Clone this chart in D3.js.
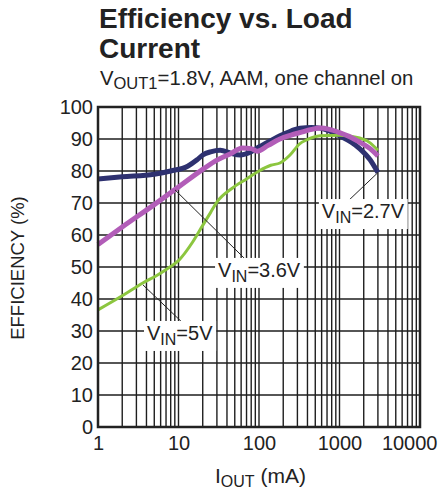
<!DOCTYPE html>
<html><head><meta charset="utf-8">
<script src="https://cdn.jsdelivr.net/npm/d3@7"></script>
<style>body{margin:0;background:#fff}svg{display:block;font-family:"Liberation Sans",Arial,sans-serif}</style>
</head><body><svg id="c" width="439" height="492"></svg>
<script>
// ---- data ----
const xDomain = [1, 10000];
const yDomain = [0, 100];
const yTicks = [0,10,20,30,40,50,60,70,80,90,100];
const xTickLabels = [1,10,100,1000,10000];

const vin27I = [1,2,5,8,13,17,20,25,33,45,58,80,100,140,182,250,323,450,575,750,1000,1400,1780,2400,3000];
const vin27E = [77.5,78.2,79,80,81.5,83.5,85,86,86.5,85.5,85,86,87.5,89.5,91,92.5,93.4,93.6,93.4,92.5,91,89,87,83.5,79.5];

const vin36I = [1,2,5,10,20,30,45,62,80,95,130,182,250,323,450,575,750,1000,1400,1780,2400,3000];
const vin36E = [57,62.5,69.5,75,80.5,83.4,85.5,87.2,87,86.2,88,90,91.2,92,93,93.4,93,92,90.5,89,87,84.7];

const vin5I = [1,2,3.6,5.5,7.8,10,15,20,25,30,47,70,100,140,182,243,320,390,575,1000,1780,2400,3000];
const vin5E = [36.6,41,45,47.5,50,52,57.8,63,67,70.3,74.7,77.5,80,81.8,82.5,85,88.5,89.7,91,91.2,90.3,88.8,86.5];

const seriesNames = ["2.7V","5V","3.6V"];
const seriesColors = ["#2e3170","#8cc63f","#b25db8"];
const seriesWidths = [5,3,5];

// annotation anchors (data space)
const annText = ["2.7V","3.6V","5V"];
const annTextI = [604, 31, 4.06];
const annTextE = [65.3, 46.9, 27.2];
const annFromI = [3000, 9.05, 3.62];
const annFromE = [79.5, 74.1, 44.4];
const annToI = [1239, 73, 12.0];
const annToE = [70.3, 51.6, 31.9];

// ---- chart ----
const svg = d3.select("#c");
const L=98, R=420, T=107, B=427;
const x = d3.scaleLog().domain(xDomain).range([L,R]);
const y = d3.scaleLinear().domain(yDomain).range([B,T]);

// title
svg.append("text").attr("x",99).attr("y",28).attr("font-size",28).attr("font-weight","bold").attr("fill","#222").text("Efficiency vs. Load");
svg.append("text").attr("x",99).attr("y",58).attr("font-size",28).attr("font-weight","bold").attr("fill","#222").text("Current");
const st = svg.append("text").attr("x",100).attr("y",85).attr("font-size",20.3).attr("fill","#222");
st.append("tspan").text("V");
st.append("tspan").attr("font-size",16.5).attr("dy",4).text("OUT1");
st.append("tspan").attr("dy",-4).text("=1.8V, AAM, one channel on");

// grid
const g = svg.append("g");
g.selectAll("line.v").data(x.ticks()).join("line")
  .attr("x1",d=>x(d)).attr("x2",d=>x(d)).attr("y1",T).attr("y2",B)
  .attr("stroke","#1e1e1e").attr("stroke-width",1.4);
g.selectAll("line.h").data(yTicks).join("line")
  .attr("x1",L).attr("x2",R).attr("y1",d=>y(d)).attr("y2",d=>y(d))
  .attr("stroke","#1e1e1e").attr("stroke-width",1.4);

// axes labels
const ya = svg.append("g").attr("transform",`translate(${L},0)`)
  .call(d3.axisLeft(y).tickValues(yTicks).tickSize(0).tickPadding(5));
ya.select(".domain").remove();
ya.selectAll("text").attr("font-size",20).attr("fill","#222").attr("font-family","Liberation Sans, Arial, sans-serif");

const xa = svg.append("g").attr("transform",`translate(0,${B})`)
  .call(d3.axisBottom(x).tickValues(xTickLabels).tickFormat(d3.format("d")).tickSize(0).tickPadding(9));
xa.select(".domain").remove();
xa.selectAll("text").attr("font-size",20).attr("fill","#222").attr("font-family","Liberation Sans, Arial, sans-serif");
xa.selectAll("text").filter(d=>d===10000).attr("text-anchor","end").attr("dx",17);

// axis titles
svg.append("text").attr("transform","translate(24,268) rotate(-90)").attr("text-anchor","middle")
  .attr("font-size",18.5).attr("fill","#222").text("EFFICIENCY (%)");
const xt = svg.append("text").attr("x",215).attr("y",483).attr("font-size",21).attr("fill","#222");
xt.append("tspan").text("I");
xt.append("tspan").attr("font-size",16).attr("dy",4).text("OUT");
xt.append("tspan").attr("dy",-4).text(" (mA)");

// series
const allI = {"2.7V":vin27I,"3.6V":vin36I,"5V":vin5I};
const allE = {"2.7V":vin27E,"3.6V":vin36E,"5V":vin5E};
const line = d3.line().x(d=>x(d[0])).y(d=>y(d[1])).curve(d3.curveMonotoneX);
seriesNames.forEach((n,i)=>{
  const pts = allI[n].map((v,j)=>[v,allE[n][j]]);
  svg.append("path").datum(pts).attr("d",line).attr("fill","none")
    .attr("stroke",seriesColors[i]).attr("stroke-width",seriesWidths[i])
    .attr("stroke-linejoin","round").attr("stroke-linecap","butt");
});

// frame
svg.append("rect").attr("x",L).attr("y",T).attr("width",R-L).attr("height",B-T)
  .attr("fill","none").attr("stroke","#222").attr("stroke-width",2.5);

// annotations
annText.forEach((t,i)=>{
  svg.append("line").attr("x1",x(annFromI[i])).attr("y1",y(annFromE[i]))
    .attr("x2",x(annToI[i])).attr("y2",y(annToE[i])).attr("stroke","#222").attr("stroke-width",1);
  const grp = svg.append("g");
  const tx = grp.append("text").attr("x",x(annTextI[i])).attr("y",y(annTextE[i])).attr("font-size",20).attr("fill","#222");
  tx.append("tspan").text("V");
  tx.append("tspan").attr("font-size",16).attr("dy",5).text("IN");
  tx.append("tspan").attr("dy",-5).text("="+t);
  const bb = tx.node().getBBox();
  grp.insert("rect","text").attr("x",bb.x-3).attr("y",bb.y-1).attr("width",bb.width+6).attr("height",bb.height+4).attr("fill","#fff");
});
</script></body></html>
